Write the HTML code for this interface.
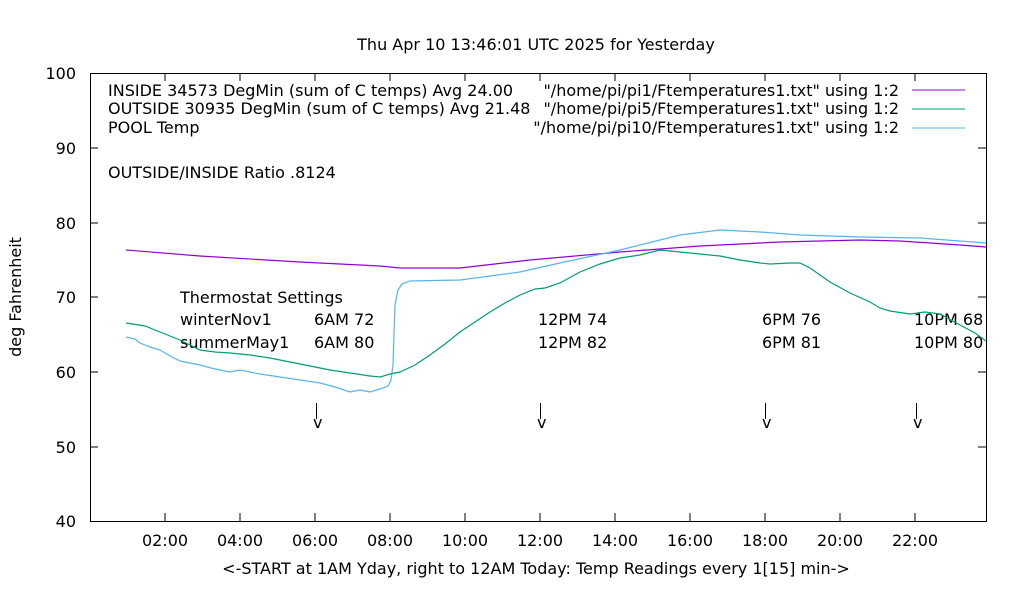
<!DOCTYPE html>
<html><head><style>body{margin:0;background:#fff}</style></head><body>
<svg width="1020" height="600" xmlns="http://www.w3.org/2000/svg" font-family="DejaVu Sans, Liberation Sans, sans-serif" font-size="16" fill="#000" xml:space="preserve">
<rect width="1020" height="600" fill="#fff"/>
<text x="536" y="50" text-anchor="middle">Thu Apr 10 13:46:01 UTC 2025 for Yesterday</text>
<rect x="90.5" y="73.5" width="896" height="448" fill="none" stroke="#000"/>
<g stroke="#000">
<path d="M90 148h8M986 148h-8M90 223h8M986 223h-8M90 297h8M986 297h-8M90 372h8M986 372h-8M90 447h8M986 447h-8"/>
<path d="M165 521v-8M240 521v-8M315 521v-8M390 521v-8M465 521v-8M540 521v-8M615 521v-8M690 521v-8M765 521v-8M840 521v-8M915 521v-8"/>
<path d="M165 73v8M240 73v8M315 73v8M390 73v8M465 73v8M540 73v8M615 73v8M690 73v8M765 73v8M840 73v8M915 73v8"/>
</g>
<g text-anchor="end">
<text x="76" y="79">100</text><text x="76" y="154">90</text><text x="76" y="229">80</text><text x="76" y="303">70</text><text x="76" y="378">60</text><text x="76" y="453">50</text><text x="76" y="527">40</text>
</g>
<g text-anchor="middle">
<text x="165" y="546">02:00</text><text x="240" y="546">04:00</text><text x="315" y="546">06:00</text><text x="390" y="546">08:00</text><text x="465" y="546">10:00</text><text x="540" y="546">12:00</text><text x="615" y="546">14:00</text><text x="690" y="546">16:00</text><text x="765" y="546">18:00</text><text x="840" y="546">20:00</text><text x="915" y="546">22:00</text>
<text x="536" y="574">&lt;-START at 1AM Yday, right to 12AM Today:  Temp Readings every 1[15] min-&gt;</text>
</g>
<text transform="translate(21,297) rotate(-90)" text-anchor="middle">deg Fahrenheit</text>
<text x="108" y="96">INSIDE 34573 DegMin (sum of C temps) Avg 24.00</text>
<text x="108" y="114">OUTSIDE 30935 DegMin (sum of C temps) Avg 21.48</text>
<text x="108" y="133">POOL Temp</text>
<g text-anchor="end">
<text x="899" y="96">"/home/pi/pi1/Ftemperatures1.txt" using 1:2</text>
<text x="899" y="114">"/home/pi/pi5/Ftemperatures1.txt" using 1:2</text>
<text x="899" y="133">"/home/pi/pi10/Ftemperatures1.txt" using 1:2</text>
</g>
<path d="M912 90h53" stroke="#9400d3"/>
<path d="M912 109h53" stroke="#009e73"/>
<path d="M912 128h53" stroke="#56b4e9"/>
<text x="108" y="178">OUTSIDE/INSIDE Ratio .8124</text>
<text x="180" y="303">Thermostat Settings</text>
<text x="180" y="325">winterNov1</text><text x="314" y="325">6AM 72</text><text x="538" y="325">12PM 74</text><text x="762" y="325">6PM 76</text><text x="914" y="325">10PM 68</text>
<text x="180" y="348">summerMay1</text><text x="314" y="348">6AM 80</text><text x="538" y="348">12PM 82</text><text x="762" y="348">6PM 81</text><text x="914" y="348">10PM 80</text>
<g stroke="#000"><path d="M316.5 403v16M540.5 403v16M765.5 403v16M916.5 403v16"/></g>
<text x="313" y="428">v</text><text x="537" y="428">v</text><text x="762" y="428">v</text><text x="913" y="428">v</text>
<g fill="none" stroke-width="1.2">
<polyline stroke="#9400d3" points="126,250 200,256 300,262 380,266 400,268 460,268 530,260 620,252 700,246 780,242 860,240 900,241 960,245 986,247"/>
<polyline stroke="#56b4e9" points="126,337 135,339 140,343 150,347 160,350 170,356 180,361 200,365 215,369 230,372 240,370 260,374 280,377 300,380 320,383 335,387 350,392 360,390 370,392 380,389 388,386 391,380 393,365 395,305 398,290 402,284 410,281 460,280 520,272 560,263 620,250 680,235 720,230 760,232 800,235 860,237 920,238 986,243"/>
<polyline stroke="#009e73" points="126,323 145,326 160,332 180,340 200,350 215,352 230,353 250,355 270,358 290,362 310,366 330,370 350,373 370,376 380,377 390,374 400,372 415,365 430,355 445,344 460,332 475,322 490,312 505,303 520,295 535,289 545,288 560,283 580,272 600,264 620,258 640,255 660,250 680,252 700,254 720,256 740,260 760,263 770,264 790,263 800,263 810,268 830,282 850,293 870,302 880,308 890,311 910,314 925,312 940,314 960,325 975,333 986,341"/>
</g>
</svg>
</body></html>
